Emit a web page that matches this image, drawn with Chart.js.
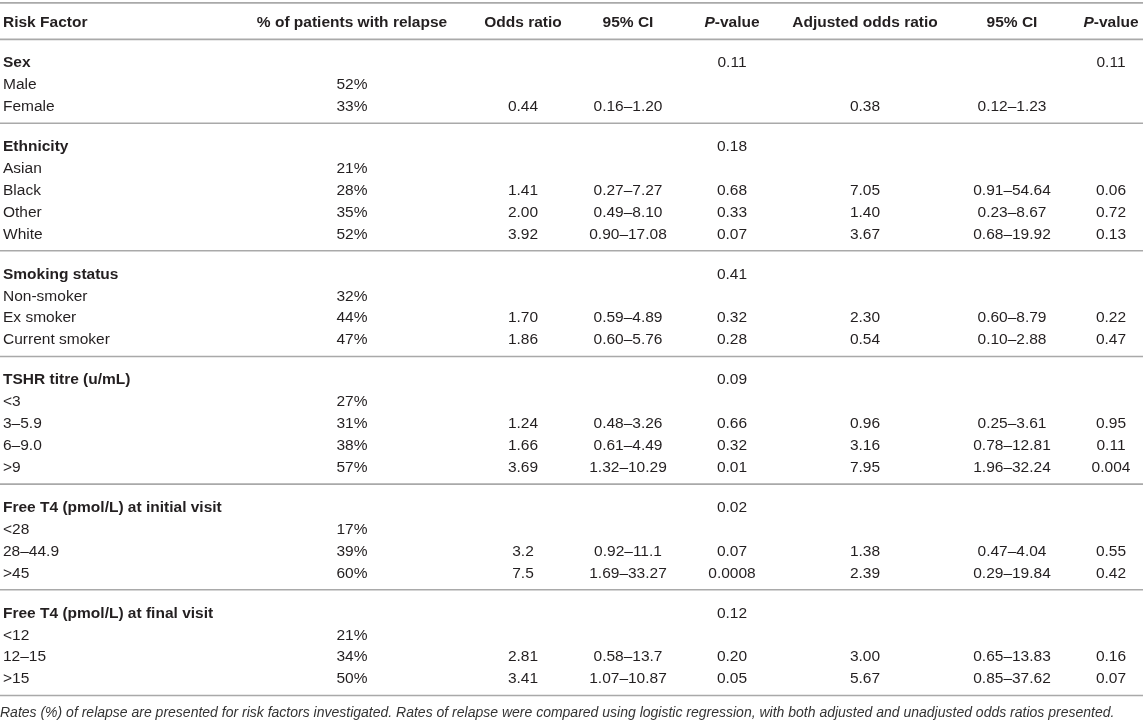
<!DOCTYPE html>
<html>
<head>
<meta charset="utf-8">
<title>Risk factors for relapse</title>
<script src="https://cdn.jsdelivr.net/npm/chart.js@4.4.1/dist/chart.umd.min.js"></script>
<style>
  html, body { margin: 0; padding: 0; background: #fff; overflow: hidden; }
  #wrap { width: 1143px; height: 722px; position: relative; }
</style>
</head>
<body>
<div id="wrap"><canvas id="tableChart"></canvas></div>
<script>
// column headings
const columns = ["Risk Factor", "% of patients with relapse", "Odds ratio", "95% CI",
  "P-value", "Adjusted odds ratio", "95% CI", "P-value"];

// risk factor groups with their overall p-values
const groups = ["Sex", "Ethnicity", "Smoking status", "TSHR titre (u/mL)",
  "Free T4 (pmol/L) at initial visit", "Free T4 (pmol/L) at final visit"];
const groupP = ["0.11", "0.18", "0.41", "0.09", "0.02", "0.12"];
const groupAdjP = ["0.11", "", "", "", "", ""];

// one entry per level
const levelGroup = [0, 0, 1, 1, 1, 1, 2, 2, 2, 3, 3, 3, 3, 4, 4, 4, 5, 5, 5];
const levels = ["Male", "Female", "Asian", "Black", "Other", "White",
  "Non-smoker", "Ex smoker", "Current smoker", "<3", "3–5.9", "6–9.0", ">9",
  "<28", "28–44.9", ">45", "<12", "12–15", ">15"];
const relapsePct = [52, 33, 21, 28, 35, 52, 32, 44, 47, 27, 31, 38, 57, 17, 39, 60, 21, 34, 50];
const oddsRatio = ["", "0.44", "", "1.41", "2.00", "3.92", "", "1.70", "1.86",
  "", "1.24", "1.66", "3.69", "", "3.2", "7.5", "", "2.81", "3.41"];
const oddsCI = ["", "0.16–1.20", "", "0.27–7.27", "0.49–8.10", "0.90–17.08", "",
  "0.59–4.89", "0.60–5.76", "", "0.48–3.26", "0.61–4.49", "1.32–10.29", "",
  "0.92–11.1", "1.69–33.27", "", "0.58–13.7", "1.07–10.87"];
const pValue = ["", "", "", "0.68", "0.33", "0.07", "", "0.32", "0.28",
  "", "0.66", "0.32", "0.01", "", "0.07", "0.0008", "", "0.20", "0.05"];
const adjOdds = ["", "0.38", "", "7.05", "1.40", "3.67", "", "2.30", "0.54",
  "", "0.96", "3.16", "7.95", "", "1.38", "2.39", "", "3.00", "5.67"];
const adjCI = ["", "0.12–1.23", "", "0.91–54.64", "0.23–8.67", "0.68–19.92", "",
  "0.60–8.79", "0.10–2.88", "", "0.25–3.61", "0.78–12.81", "1.96–32.24", "",
  "0.47–4.04", "0.29–19.84", "", "0.65–13.83", "0.85–37.62"];
const adjP = ["", "", "", "0.06", "0.72", "0.13", "", "0.22", "0.47",
  "", "0.95", "0.11", "0.004", "", "0.55", "0.42", "", "0.16", "0.07"];

const footnote = "Rates (%) of relapse are presented for risk factors investigated. Rates of relapse were compared using logistic regression, with both adjusted and unadjusted odds ratios presented.";

// layout (x in px-units of the x scale, y in row units)
const colX = [3, 352, 523, 628, 732, 865, 1012, 1111];
const groupGap = 1.83;
const lineOffset = 0.75;
const FONT = "'Liberation Sans', Arial, Helvetica, sans-serif";
const SIZE = "15.5px ";
const INK = "#231f20";

// build the row list from the data
const rows = [{ pos: 0, cells: columns, kind: "head" }];
const rules = [-0.92, lineOffset];
let pos = 0;
groups.forEach((g, gi) => {
  pos += groupGap;
  rows.push({ pos, kind: "group", cells: [g, "", "", "", groupP[gi], "", "", groupAdjP[gi]] });
  levels.forEach((lv, i) => {
    if (levelGroup[i] !== gi) return;
    pos += 1;
    rows.push({ pos, kind: "level",
      cells: [lv, relapsePct[i] + "%", oddsRatio[i], oddsCI[i], pValue[i], adjOdds[i], adjCI[i], adjP[i]] });
  });
  rules.push(pos + lineOffset);
});

const tablePlugin = {
  id: "tableCells",
  afterDatasetsDraw(chart) {
    const { ctx, scales: { x, y } } = chart;
    ctx.save();
    // horizontal rules
    ctx.strokeStyle = "#a9a9a9";
    ctx.lineWidth = 1.6;
    rules.forEach(r => {
      const py = y.getPixelForValue(r);
      ctx.beginPath();
      ctx.moveTo(x.getPixelForValue(0), py);
      ctx.lineTo(x.getPixelForValue(1143), py);
      ctx.stroke();
    });
    // cells
    ctx.fillStyle = INK;
    ctx.textBaseline = "middle";
    rows.forEach(row => {
      const py = y.getPixelForValue(row.pos);
      row.cells.forEach((txt, c) => {
        if (!txt) return;
        const px = x.getPixelForValue(colX[c]);
        const bold = row.kind === "head" || (row.kind === "group" && c === 0);
        const weight = bold ? "bold " : "";
        ctx.textAlign = c === 0 ? "left" : "center";
        if (row.kind === "head" && txt === "P-value") {
          // italic P, upright "-value"
          ctx.font = "italic bold " + SIZE + FONT;
          const wP = ctx.measureText("P").width;
          ctx.font = "bold " + SIZE + FONT;
          const wRest = ctx.measureText("-value").width;
          const left = px - (wP + wRest) / 2;
          ctx.textAlign = "left";
          ctx.font = "italic bold " + SIZE + FONT;
          ctx.fillText("P", left, py);
          ctx.font = "bold " + SIZE + FONT;
          ctx.fillText("-value", left + wP, py);
          return;
        }
        ctx.font = weight + SIZE + FONT;
        ctx.fillText(txt, px, py);
      });
    });
    ctx.restore();
  }
};

new Chart(document.getElementById("tableChart"), {
  type: "scatter",
  data: { datasets: [{ data: [] }] },
  options: {
    responsive: true,
    maintainAspectRatio: false,
    animation: false,
    layout: { padding: 0 },
    scales: {
      x: { type: "linear", min: 0, max: 1143, display: false },
      y: { type: "linear", min: -1.05, max: 30.9, reverse: true, display: false }
    },
    plugins: {
      legend: { display: false },
      tooltip: { enabled: false },
      title: {
        display: true,
        position: "bottom",
        align: "start",
        text: footnote,
        color: "#333",
        font: { family: FONT, size: 14, style: "italic", weight: "normal" },
        padding: { top: 6, bottom: 0 }
      }
    }
  },
  plugins: [tablePlugin]
});
</script>
</body>
</html>
